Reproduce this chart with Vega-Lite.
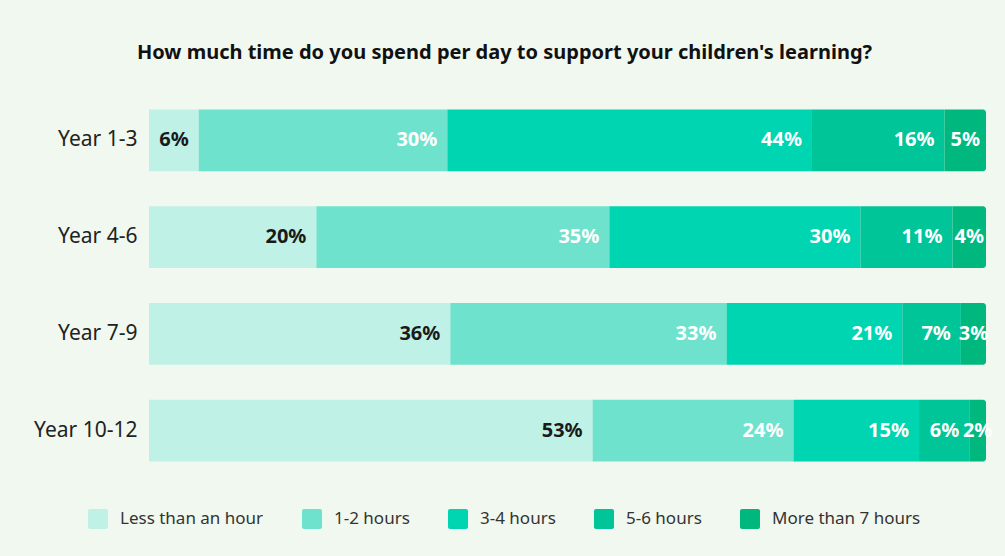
{
  "$schema": "https://vega.github.io/schema/vega-lite/v6.json",
  "width": 837,
  "height": 387,
  "autosize": {"type": "none"},
  "padding": {"left": 149, "top": 92, "right": 19, "bottom": 77},
  "background": "#f1f8ef",
  "config": {"view": {"stroke": null}, "font": "Noto Sans"},
  "title": {
    "text": "How much time do you spend per day to support your children's learning?",
    "fontSize": 20,
    "fontWeight": "bold",
    "color": "#111111",
    "font": "Noto Sans",
    "anchor": "middle",
    "dx": -63,
    "offset": 29
  },
  "data": {
    "values": [
      {"year": "Year 1-3", "time": "Less than an hour", "k": 1, "value": 0.06},
      {"year": "Year 1-3", "time": "1-2 hours", "k": 2, "value": 0.30},
      {"year": "Year 1-3", "time": "3-4 hours", "k": 3, "value": 0.44},
      {"year": "Year 1-3", "time": "5-6 hours", "k": 4, "value": 0.16},
      {"year": "Year 1-3", "time": "More than 7 hours", "k": 5, "value": 0.05},
      {"year": "Year 4-6", "time": "Less than an hour", "k": 1, "value": 0.20},
      {"year": "Year 4-6", "time": "1-2 hours", "k": 2, "value": 0.35},
      {"year": "Year 4-6", "time": "3-4 hours", "k": 3, "value": 0.30},
      {"year": "Year 4-6", "time": "5-6 hours", "k": 4, "value": 0.11},
      {"year": "Year 4-6", "time": "More than 7 hours", "k": 5, "value": 0.04},
      {"year": "Year 7-9", "time": "Less than an hour", "k": 1, "value": 0.36},
      {"year": "Year 7-9", "time": "1-2 hours", "k": 2, "value": 0.33},
      {"year": "Year 7-9", "time": "3-4 hours", "k": 3, "value": 0.21},
      {"year": "Year 7-9", "time": "5-6 hours", "k": 4, "value": 0.07},
      {"year": "Year 7-9", "time": "More than 7 hours", "k": 5, "value": 0.03},
      {"year": "Year 10-12", "time": "Less than an hour", "k": 1, "value": 0.53},
      {"year": "Year 10-12", "time": "1-2 hours", "k": 2, "value": 0.24},
      {"year": "Year 10-12", "time": "3-4 hours", "k": 3, "value": 0.15},
      {"year": "Year 10-12", "time": "5-6 hours", "k": 4, "value": 0.06},
      {"year": "Year 10-12", "time": "More than 7 hours", "k": 5, "value": 0.02}
    ]
  },
  "transform": [
    {"stack": "value", "groupby": ["year"], "sort": [{"field": "k", "order": "ascending"}], "offset": "normalize", "as": ["x0", "x1"]},
    {"calculate": "(datum.x0 + datum.x1) / 2", "as": "xm"}
  ],
  "encoding": {
    "y": {
      "field": "year",
      "type": "nominal",
      "sort": ["Year 1-3", "Year 4-6", "Year 7-9", "Year 10-12"],
      "scale": {"paddingInner": 0.36, "paddingOuter": 0.18},
      "axis": {
        "title": null,
        "domain": false,
        "ticks": false,
        "labelPadding": 12,
        "labelFontSize": 21,
        "labelColor": "#222222",
        "labelFont": "Noto Sans"
      }
    }
  },
  "layer": [
    {
      "transform": [{"filter": "datum.k < 5"}],
      "mark": {"type": "bar"},
      "encoding": {
        "x": {"field": "x0", "type": "quantitative", "scale": {"domain": [0, 1]}, "axis": null},
        "x2": {"field": "x1"},
        "color": {
          "field": "time",
          "type": "nominal",
          "scale": {
            "domain": ["Less than an hour", "1-2 hours", "3-4 hours", "5-6 hours", "More than 7 hours"],
            "range": ["#bff1e7", "#6fe2ce", "#00d5b2", "#00c598", "#00b87e"]
          },
          "legend": {
            "title": null,
            "orient": "none",
            "direction": "horizontal",
            "legendX": -61,
            "legendY": 417,
            "symbolType": "M -0.8,-1 H 0.8 A 0.2 0.2 0 0 1 1 -0.8 V 0.8 A 0.2 0.2 0 0 1 0.8 1 H -0.8 A 0.2 0.2 0 0 1 -1 0.8 V -0.8 A 0.2 0.2 0 0 1 -0.8 -1 Z",
            "symbolSize": 400,
            "symbolStrokeWidth": 0,
            "symbolOpacity": 1,
            "labelFontSize": 17,
            "labelColor": "#333333",
            "labelFont": "Noto Sans",
            "labelOffset": 12,
            "columnPadding": 38
          }
        }
      }
    },
    {
      "transform": [{"filter": "datum.k == 5"}],
      "mark": {"type": "bar", "cornerRadiusTopRight": 3, "cornerRadiusBottomRight": 3},
      "encoding": {
        "x": {"field": "x0", "type": "quantitative", "scale": {"domain": [0, 1]}, "axis": null},
        "x2": {"field": "x1"},
        "color": {"field": "time", "type": "nominal"}
      }
    },
    {
      "transform": [{"filter": "datum.k < 5"}],
      "mark": {"type": "text", "align": "right", "baseline": "middle", "dx": -10, "fontSize": 20, "fontWeight": "bold", "font": "Noto Sans"},
      "encoding": {
        "x": {"field": "x1", "type": "quantitative"},
        "text": {"field": "value", "type": "quantitative", "format": ".0%"},
        "color": {
          "condition": {"test": "datum.k == 1", "value": "#1a1a1a"},
          "value": "#ffffff"
        }
      }
    },
    {
      "transform": [{"filter": "datum.k == 5"}],
      "mark": {"type": "text", "align": "center", "baseline": "middle", "fontSize": 20, "fontWeight": "bold", "font": "Noto Sans", "color": "#ffffff"},
      "encoding": {
        "x": {"field": "xm", "type": "quantitative"},
        "text": {"field": "value", "type": "quantitative", "format": ".0%"}
      }
    }
  ]
}
